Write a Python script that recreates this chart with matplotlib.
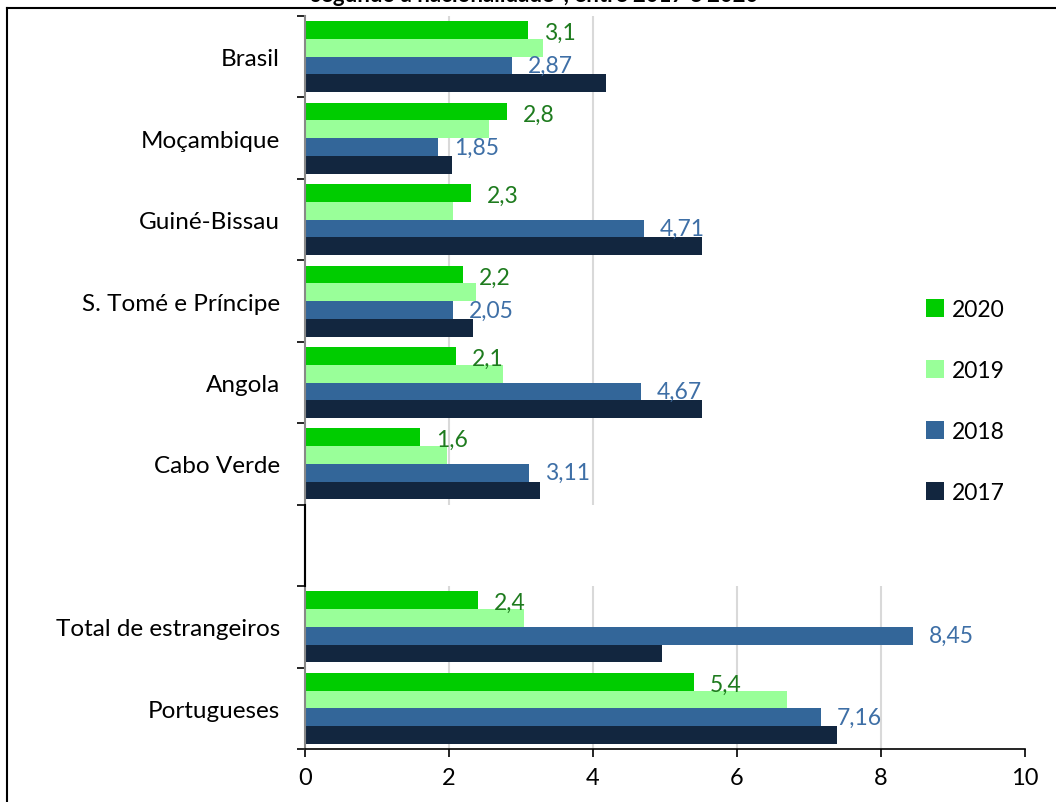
import numpy as np
import matplotlib.pyplot as plt
from matplotlib.lines import Line2D

plt.rcParams['font.family'] = ['Lato', 'DejaVu Sans']

# categorias de cima para baixo ('' = espaço vazio)
categorias = ['Brasil', 'Moçambique', 'Guiné-Bissau', 'S. Tomé e Príncipe',
              'Angola', 'Cabo Verde', '', 'Total de estrangeiros', 'Portugueses']
anos = ['2020', '2019', '2018', '2017']
v2020 = [3.1, 2.8, 2.3, 2.2, 2.1, 1.6, np.nan, 2.4, 5.4]
v2019 = [3.3, 2.56, 2.05, 2.37, 2.75, 1.97, np.nan, 3.04, 6.69]
v2018 = [2.87, 1.85, 4.71, 2.05, 4.67, 3.11, np.nan, 8.45, 7.16]
v2017 = [4.18, 2.04, 5.51, 2.33, 5.51, 3.26, np.nan, 4.96, 7.39]
rot2020 = ['3,1', '2,8', '2,3', '2,2', '2,1', '1,6', '', '2,4', '5,4']
rot2018 = ['2,87', '1,85', '4,71', '2,05', '4,67', '3,11', '', '8,45', '7,16']
cores = ['#00CC00', '#99FF99', '#336699', '#12263F']

W, H = 1056, 803
fig = plt.figure(figsize=(W / 100, H / 100), dpi=100)
ax = fig.add_axes([305 / W, 1 - 750 / H, 720 / W, 733 / H])

y = np.arange(len(categorias))
h = 0.218
series = [v2020, v2019, v2018, v2017]
for i, (vals, cor, ano) in enumerate(zip(series, cores, anos)):
    ax.barh(y + (i - 1.5) * h, vals, height=h, color=cor, label=ano, zorder=2)

for yi, txt, v in zip(y, rot2020, v2020):
    if txt:
        ax.text(v + 0.22, yi - 1.5 * h + 0.03, txt, color='#1E7B1E',
                fontsize=16.5, va='center', ha='left', zorder=3)
for yi, txt, v in zip(y, rot2018, v2018):
    if txt:
        ax.text(v + 0.22, yi + 0.5 * h, txt, color='#3E6FA6',
                fontsize=16.5, va='center', ha='left', zorder=3)

# grelha: secção superior só 2 e 4, inferior 2 a 8
ax.vlines([2, 4], -0.5, 5.5, color='#D9D9D9', lw=1.5, zorder=0)
ax.vlines([2, 4, 6, 8], 6.5, 8.5, color='#D9D9D9', lw=1.5, zorder=0)

ax.set_xlim(0, 10)
ax.set_ylim(8.5, -0.5)
ax.set_xticks(range(0, 11, 2))
ax.tick_params(axis='x', labelsize=17, length=6, width=1.2, direction='out', pad=7)
ax.set_yticks(y)
ax.set_yticklabels(categorias, fontsize=17.5)
ax.tick_params(axis='y', which='major', length=0, pad=18)
ax.set_yticks(np.arange(-0.5, 9, 1), minor=True)
ax.tick_params(axis='y', which='minor', length=6, width=1.2, direction='out')

for s in ['top', 'right']:
    ax.spines[s].set_visible(False)
ax.spines['left'].set_color('#888888')
ax.spines['left'].set_linewidth(1.5)
ax.spines['bottom'].set_linewidth(1.2)
ax.plot([0, 0], [5.5, 6.5], color='black', lw=1.5, clip_on=False, zorder=4)

ax.legend(loc='center left', bbox_to_anchor=(905 / W, 1 - 402 / H),
          bbox_transform=fig.transFigure, frameon=False, fontsize=16.5,
          handlelength=0.8, handleheight=0.8, handletextpad=0.35,
          labelspacing=1.75)

# moldura e título cortado
fig.add_artist(Line2D([7 / W, 1], [1 - 9 / H] * 2, color='black', lw=1.5))
fig.add_artist(Line2D([7 / W] * 2, [0, 1 - 9 / H], color='black', lw=1.5))
fig.text(535 / W, 1 - 2 / H, 'segundo a nacionalidade*, entre 2017 e 2020',
         ha='center', va='baseline', fontsize=16, fontweight='bold')

fig.savefig('out.png', dpi=100)
